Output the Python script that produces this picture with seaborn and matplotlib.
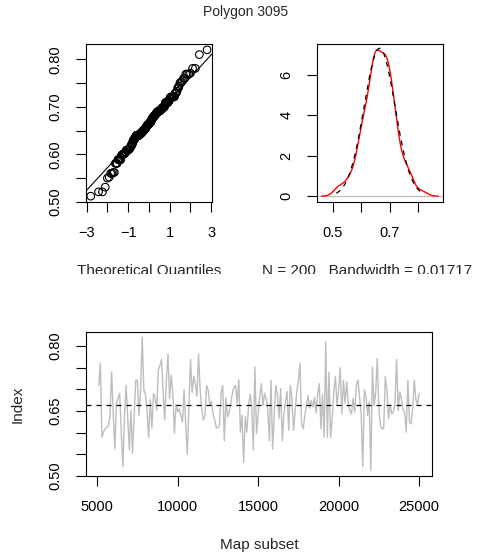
from statistics import NormalDist

import numpy as np
import matplotlib
matplotlib.use("Agg")
import matplotlib.pyplot as plt
import seaborn as sns
from matplotlib.transforms import Bbox, TransformedBbox

title = "Polygon 3095"
bandwidth = 0.01717
map_subset = list(range(5100, 25001, 100))
index_values = [
    0.709, 0.760, 0.589, 0.602, 0.609, 0.612, 0.615, 0.640, 0.740, 0.645,
    0.562, 0.667, 0.680, 0.691, 0.600, 0.521, 0.640, 0.709, 0.636, 0.560,
    0.651, 0.552, 0.640, 0.721, 0.721, 0.640, 0.700, 0.820, 0.700, 0.688,
    0.651, 0.589, 0.676, 0.610, 0.690, 0.682, 0.652, 0.744, 0.755, 0.769,
    0.695, 0.629, 0.720, 0.781, 0.678, 0.733, 0.690, 0.598, 0.665, 0.648,
    0.655, 0.640, 0.624, 0.699, 0.620, 0.550, 0.660, 0.769, 0.693, 0.730,
    0.713, 0.684, 0.781, 0.697, 0.654, 0.629, 0.638, 0.709, 0.698, 0.663,
    0.672, 0.643, 0.630, 0.611, 0.611, 0.616, 0.692, 0.709, 0.581, 0.680,
    0.636, 0.646, 0.668, 0.690, 0.705, 0.709, 0.667, 0.722, 0.601, 0.640,
    0.531, 0.637, 0.601, 0.658, 0.689, 0.661, 0.560, 0.752, 0.598, 0.640,
    0.684, 0.713, 0.662, 0.691, 0.678, 0.652, 0.581, 0.721, 0.562, 0.640,
    0.709, 0.687, 0.632, 0.702, 0.581, 0.643, 0.672, 0.695, 0.605, 0.709,
    0.679, 0.605, 0.650, 0.694, 0.720, 0.760, 0.620, 0.609, 0.640, 0.662,
    0.686, 0.656, 0.674, 0.659, 0.681, 0.645, 0.690, 0.713, 0.609, 0.688,
    0.589, 0.810, 0.589, 0.740, 0.589, 0.632, 0.694, 0.729, 0.664, 0.699,
    0.750, 0.643, 0.721, 0.668, 0.717, 0.666, 0.650, 0.643, 0.679, 0.647,
    0.709, 0.721, 0.683, 0.642, 0.521, 0.699, 0.685, 0.640, 0.671, 0.512,
    0.752, 0.662, 0.691, 0.771, 0.655, 0.616, 0.609, 0.609, 0.729, 0.699,
    0.632, 0.664, 0.643, 0.647, 0.668, 0.769, 0.651, 0.694, 0.677, 0.653,
    0.647, 0.601, 0.721, 0.624, 0.620, 0.657, 0.721, 0.676, 0.665, 0.691,
]

qq_xticks = [-3, -2, -1, 0, 1, 2, 3]
qq_xlabels = ["\u22123", "", "\u22121", "", "1", "", "3"]
idx_ticks = [0.50, 0.55, 0.60, 0.65, 0.70, 0.75, 0.80]
qq_ylabels = ["0.50", "", "0.60", "", "0.70", "", "0.80"]
ts_ylabels = ["0.50", "", "", "0.65", "", "", "0.80"]
kde_xticks = [0.5, 0.6, 0.7, 0.8]
kde_xlabels = ["0.5", "", "0.7", ""]
kde_yticks = [0, 2, 4, 6]
ts_xticks = [5000, 10000, 15000, 20000, 25000]

GREY = "#BEBEBE"
DASH = (0, (4, 4))


def r_range(lo, hi):
    # R style axis range: data range plus 4 %
    pad = 0.04 * (hi - lo)
    return lo - pad, hi + pad


def style_axis(ax):
    ax.tick_params(direction="out", length=7, width=0.8, pad=10,
                   labelsize=10.5, colors="black")
    for sp in ax.spines.values():
        sp.set_visible(True)
        sp.set_color("black")
        sp.set_linewidth(0.8)
    ax.grid(False)


sns.set_style("ticks")
plt.rcParams["font.family"] = ["Liberation Sans", "DejaVu Sans"]

values = np.array(index_values)
n = len(values)
ylim = r_range(values.min(), values.max())

fig = plt.figure(figsize=(4.91, 5.55), dpi=100)
ax_qq = fig.add_axes([0.175, 0.636, 0.2566, 0.2847])
ax_kde = fig.add_axes([0.6456, 0.636, 0.2566, 0.2847])
ax_ts = fig.add_axes([0.175, 0.1423, 0.7047, 0.2595])

# normal QQ plot
nd = NormalDist()
probs = (np.arange(1, n + 1) - 0.5) / n
theo = np.array([nd.inv_cdf(p) for p in probs])
sns.scatterplot(x=theo, y=np.sort(values), ax=ax_qq, marker="o",
                facecolor="none", edgecolor="black", s=30, linewidth=0.8)
qy = np.quantile(values, [0.25, 0.75])
qx = [nd.inv_cdf(0.25), nd.inv_cdf(0.75)]
ax_qq.axline((qx[0], qy[0]), slope=(qy[1] - qy[0]) / (qx[1] - qx[0]),
             color="black", lw=0.8)
ax_qq.set_xlim(-3.04, 3.04)
ax_qq.set_ylim(*ylim)
ax_qq.set_xticks(qq_xticks, qq_xlabels)
ax_qq.set_yticks(idx_ticks, qq_ylabels, rotation=90, va="center")

# density
sns.kdeplot(x=values, bw_method=bandwidth / values.std(ddof=1), cut=3,
            gridsize=512, color="red", lw=1, ax=ax_kde)
dens_max = ax_kde.lines[0].get_ydata().max()
fit = NormalDist(values.mean(), values.std(ddof=1))
grid = np.linspace(values.min(), values.max(), 200)
ax_kde.plot(grid, [fit.pdf(v) for v in grid], color="black", lw=0.9,
            linestyle=DASH)
ax_kde.axhline(0, color=GREY, lw=0.9, zorder=0)
ax_kde.set_xlim(*r_range(values.min() - 3 * bandwidth,
                         values.max() + 3 * bandwidth))
ax_kde.set_ylim(*r_range(0, dens_max))
ax_kde.set_xticks(kde_xticks, kde_xlabels)
ax_kde.set_yticks(kde_yticks, [str(t) for t in kde_yticks],
                  rotation=90, va="center")
ax_kde.set_ylabel("")

# series over map subsets
sns.lineplot(x=map_subset, y=values, color=GREY, lw=1, ax=ax_ts)
ax_ts.axhline(values.mean(), color="black", lw=0.9, linestyle=DASH)
ax_ts.set_xlim(*r_range(map_subset[0], map_subset[-1]))
ax_ts.set_ylim(*ylim)
ax_ts.set_xticks(ts_xticks, [str(t) for t in ts_xticks])
ax_ts.set_yticks(idx_ticks, ts_ylabels, rotation=90, va="center")

for ax in (ax_qq, ax_kde, ax_ts):
    style_axis(ax)

# top row labels are cut by the panel region, as in the original
clip = TransformedBbox(Bbox.from_extents(0, 1 - 274 / 555, 1, 1),
                       fig.transFigure)
lab = ax_qq.set_xlabel("Theoretical Quantiles", fontsize=11)
ax_qq.xaxis.set_label_coords(0.5, -0.39)
lab.set_clip_box(clip)
lab.set_clip_on(True)
lab = ax_kde.set_xlabel(f"N = {n}   Bandwidth = {bandwidth:.4g}", fontsize=11)
ax_kde.xaxis.set_label_coords(0.40, -0.39)
lab.set_clip_box(clip)
lab.set_clip_on(True)

ax_ts.set_xlabel("Map subset", fontsize=11)
ax_ts.xaxis.set_label_coords(0.5, -0.43)
ax_ts.set_ylabel("Index", fontsize=11)
ax_ts.yaxis.set_label_coords(-0.176, 0.5)

fig.text(0.5, 1 - 12 / 555, title, ha="center", va="center", fontsize=10)

fig.savefig("out.png", dpi=100)
